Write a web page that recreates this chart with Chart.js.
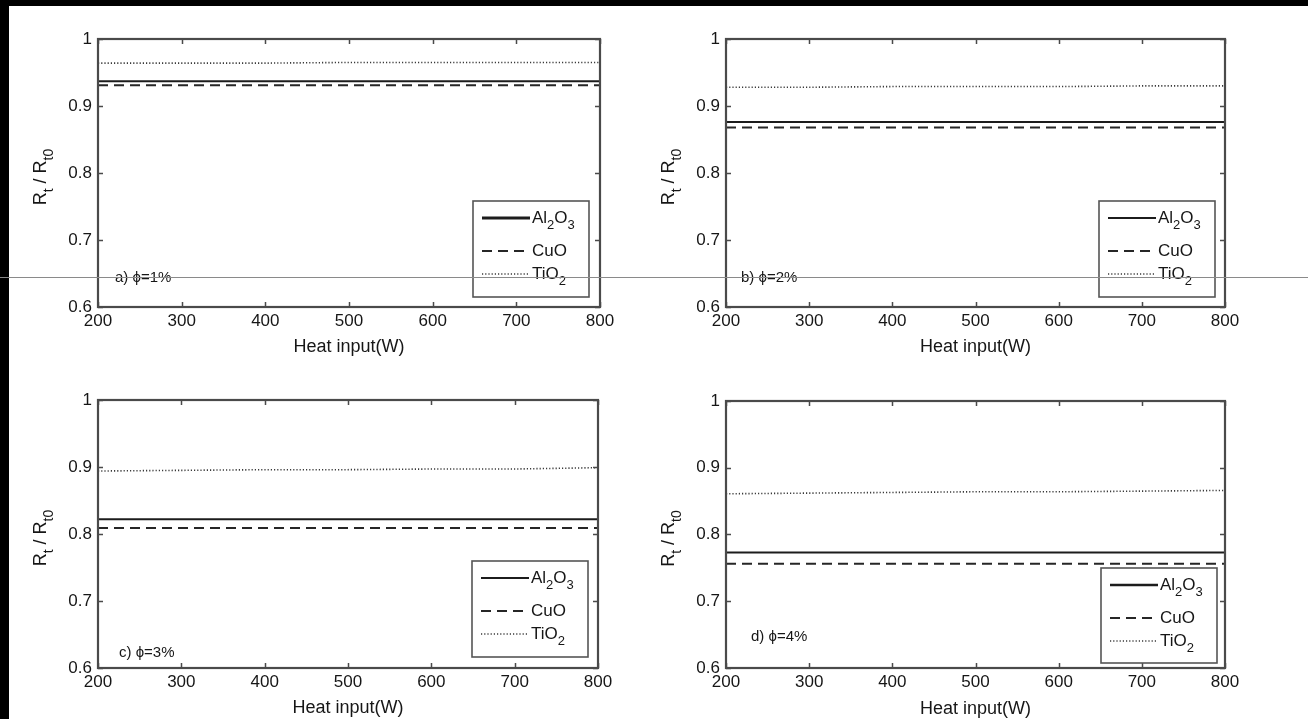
<!DOCTYPE html>
<html>
<head>
<meta charset="utf-8">
<script src="https://cdn.jsdelivr.net/npm/chart.js@4"></script>
<style>
  body { margin: 0; background: #fff; width: 1308px; height: 719px; overflow: hidden; position: relative; }
  .panel { position: absolute; width: 640px; height: 360px; }
  .strip { position: absolute; background: #000; z-index: 5; }
  .scanline { position: absolute; left: 0; top: 277px; width: 1308px; height: 1px; background: #8a8a8a; z-index: 6; }
</style>
</head>
<body>
<div class="panel" style="left:0px;top:0px"><canvas id="chartA"></canvas></div>
<div class="panel" style="left:628px;top:0px"><canvas id="chartB"></canvas></div>
<div class="panel" style="left:0px;top:361px"><canvas id="chartC"></canvas></div>
<div class="panel" style="left:628px;top:362px"><canvas id="chartD"></canvas></div>
<div class="strip" style="left:0;top:0;width:1308px;height:6px"></div>
<div class="strip" style="left:0;top:0;width:9px;height:719px"></div>
<div class="scanline"></div>
<script>
// x axis: heat input (W)
const heatInput = [200, 300, 400, 500, 600, 700, 800];
const xTicks = [200, 300, 400, 500, 600, 700, 800];
const yTicks = [0.6, 0.7, 0.8, 0.9, 1];
const seriesNames = ['Al_2O_3', 'CuO', 'TiO_2'];

// a) phi = 1%
const al2o3A = [0.937, 0.937, 0.937, 0.937, 0.937, 0.937, 0.937];
const cuoA   = [0.931, 0.931, 0.931, 0.931, 0.931, 0.931, 0.931];
const tio2A  = [0.964, 0.964, 0.964, 0.965, 0.965, 0.965, 0.965];
// b) phi = 2%
const al2o3B = [0.876, 0.876, 0.876, 0.876, 0.876, 0.876, 0.876];
const cuoB   = [0.868, 0.868, 0.868, 0.868, 0.868, 0.868, 0.868];
const tio2B  = [0.928, 0.928, 0.929, 0.929, 0.929, 0.930, 0.930];
// c) phi = 3%
const al2o3C = [0.822, 0.822, 0.822, 0.822, 0.822, 0.822, 0.822];
const cuoC   = [0.809, 0.809, 0.809, 0.809, 0.809, 0.809, 0.809];
const tio2C  = [0.894, 0.895, 0.896, 0.896, 0.897, 0.897, 0.899];
// d) phi = 4%
const al2o3D = [0.773, 0.773, 0.773, 0.773, 0.773, 0.773, 0.773];
const cuoD   = [0.756, 0.756, 0.756, 0.756, 0.756, 0.756, 0.756];
const tio2D  = [0.861, 0.862, 0.863, 0.864, 0.864, 0.865, 0.866];

const FONT = '"Liberation Sans", Arial, sans-serif';
const INK = '#161616';
Chart.defaults.font.family = FONT;
Chart.defaults.color = INK;

// text with single-char subscripts marked by "_"
function richParts(s) {
  const out = [];
  for (let i = 0; i < s.length; i++) {
    if (s[i] === '_') { out.push({ t: s[i + 1], sub: true }); i++; }
    else if (out.length && !out[out.length - 1].sub) out[out.length - 1].t += s[i];
    else out.push({ t: s[i], sub: false });
  }
  return out;
}
function richWidth(ctx, s, size) {
  let w = 0;
  for (const p of richParts(s)) {
    ctx.font = (p.sub ? Math.round(size * 0.75) : size) + 'px ' + FONT;
    w += ctx.measureText(p.t).width;
  }
  return w;
}
function drawRich(ctx, s, x, y, size) {
  for (const p of richParts(s)) {
    ctx.font = (p.sub ? Math.round(size * 0.75) : size) + 'px ' + FONT;
    ctx.fillText(p.t, x, p.sub ? y + size * 0.45 : y);
    x += ctx.measureText(p.t).width;
  }
}

// MATLAB-ish box, inward ticks, y title, note and legend
const matlabBox = {
  id: 'matlabBox',
  afterDraw(chart, args, opts) {
    const { ctx, chartArea: a } = chart;
    const x = chart.scales.x, y = chart.scales.y;
    ctx.save();
    ctx.strokeStyle = '#4a4a4a';
    ctx.lineWidth = 1.5;
    ctx.beginPath();
    x.ticks.forEach(t => {
      const px = Math.round(x.getPixelForValue(t.value)) + 0.5;
      ctx.moveTo(px, a.bottom); ctx.lineTo(px, a.bottom - 5);
      ctx.moveTo(px, a.top); ctx.lineTo(px, a.top + 5);
    });
    y.ticks.forEach(t => {
      const py = Math.round(y.getPixelForValue(t.value)) + 0.5;
      ctx.moveTo(a.left, py); ctx.lineTo(a.left + 5, py);
      ctx.moveTo(a.right, py); ctx.lineTo(a.right - 5, py);
    });
    ctx.stroke();
    ctx.lineWidth = 2.2;
    ctx.strokeRect(a.left, a.top, a.right - a.left, a.bottom - a.top);

    // y axis title  R_t / R_t0
    ctx.fillStyle = INK;
    ctx.textBaseline = 'middle';
    ctx.textAlign = 'left';
    const yt = 'R_t / R_t_0';
    const w = richWidth(ctx, yt, 18);
    ctx.save();
    ctx.translate(41, (a.top + a.bottom) / 2 + 4);
    ctx.rotate(-Math.PI / 2);
    drawRich(ctx, yt, -w / 2, 0, 18);
    ctx.restore();

    // panel note
    ctx.font = '15px ' + FONT;
    ctx.fillText(opts.note, a.left + opts.noteDx, a.bottom - opts.noteDy);

    // legend
    const L = opts.legend;
    const bx = a.right - L.right - L.w, by = a.bottom - L.bottom - L.h;
    ctx.fillStyle = '#fff';
    ctx.fillRect(bx, by, L.w, L.h);
    ctx.strokeStyle = '#555';
    ctx.lineWidth = 1.6;
    ctx.strokeRect(bx, by, L.w, L.h);
    const rows = [17, 50, 73];
    chart.data.datasets.forEach((ds, i) => {
      const ry = by + rows[i];
      ctx.strokeStyle = ds.borderColor;
      ctx.lineWidth = ds.legendWidth || ds.borderWidth;
      ctx.setLineDash(ds.borderDash || []);
      ctx.beginPath();
      ctx.moveTo(bx + 9, ry); ctx.lineTo(bx + 57, ry);
      ctx.stroke();
      ctx.setLineDash([]);
      ctx.fillStyle = INK;
      drawRich(ctx, ds.label, bx + 59, ry, 17);
    });
    ctx.restore();
  }
};

function makePanel(id, al2o3, cuo, tio2, cfg) {
  const datasets = [
    { label: seriesNames[0], data: al2o3, borderColor: '#1c1c1c', borderWidth: cfg.alW, legendWidth: cfg.alLegW },
    { label: seriesNames[1], data: cuo, borderColor: '#262626', borderWidth: 2, borderDash: [10, 6] },
    { label: seriesNames[2], data: tio2, borderColor: '#3a3a3a', borderWidth: 1.6, borderDash: [1.2, 2] }
  ];
  return new Chart(document.getElementById(id), {
    type: 'line',
    data: {
      datasets: datasets.map(d => ({
        ...d,
        data: d.data.map((v, i) => ({ x: heatInput[i], y: v })),
        pointRadius: 0,
        fill: false,
        tension: 0
      }))
    },
    options: {
      responsive: true,
      maintainAspectRatio: false,
      animation: false,
      events: [],
      layout: { padding: { left: 0, top: 39, right: cfg.padRight, bottom: 0 } },
      plugins: {
        legend: { display: false },
        tooltip: { enabled: false },
        matlabBox: { note: cfg.note, noteDx: cfg.noteDx, noteDy: cfg.noteDy, legend: cfg.legend }
      },
      scales: {
        x: {
          type: 'linear',
          min: 200, max: 800,
          afterBuildTicks: s => { s.ticks = xTicks.map(v => ({ value: v })); },
          afterFit: s => { s.height = cfg.xHeight; s.paddingLeft = 0; s.paddingRight = 0; },
          grid: { display: false, drawTicks: false },
          border: { display: false },
          ticks: { padding: 4, font: { size: 17 }, color: INK, maxRotation: 0 },
          title: { display: true, text: 'Heat input(W)', font: { size: 18 }, color: INK, padding: { top: 0, bottom: 2 } }
        },
        y: {
          min: 0.6, max: 1,
          afterBuildTicks: s => { s.ticks = yTicks.map(v => ({ value: v })); },
          afterFit: s => { s.width = 98; s.paddingTop = 0; s.paddingBottom = 0; },
          grid: { display: false, drawTicks: false },
          border: { display: false },
          ticks: { padding: 6, font: { size: 17 }, color: INK, callback: v => String(Number(v.toFixed(1))) }
        }
      }
    },
    plugins: [matlabBox]
  });
}

makePanel('chartA', al2o3A, cuoA, tio2A, {
  padRight: 40, xHeight: 53, alW: 2, alLegW: 3,
  note: 'a) ϕ=1%', noteDx: 17, noteDy: 29,
  legend: { right: 11, bottom: 10, w: 116, h: 96 }
});
makePanel('chartB', al2o3B, cuoB, tio2B, {
  padRight: 43, xHeight: 53, alW: 2, alLegW: 1.8,
  note: 'b) ϕ=2%', noteDx: 15, noteDy: 29,
  legend: { right: 10, bottom: 10, w: 116, h: 96 }
});
makePanel('chartC', al2o3C, cuoC, tio2C, {
  padRight: 42, xHeight: 53, alW: 1.8, alLegW: 1.8,
  note: 'c) ϕ=3%', noteDx: 21, noteDy: 15,
  legend: { right: 10, bottom: 11, w: 116, h: 96 }
});
makePanel('chartD', al2o3D, cuoD, tio2D, {
  padRight: 43, xHeight: 54, alW: 2, alLegW: 2.4,
  note: 'd) ϕ=4%', noteDx: 25, noteDy: 31,
  legend: { right: 8, bottom: 5, w: 116, h: 95 }
});
</script>
</body>
</html>
